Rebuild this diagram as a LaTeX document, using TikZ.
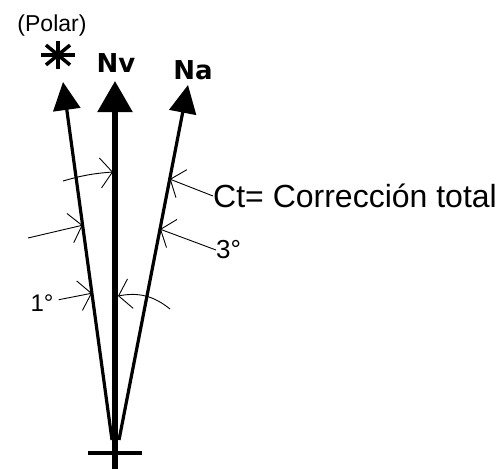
\documentclass[tikz,border=0pt]{standalone}
\usepackage{fontspec}
\setmainfont{Liberation Sans}
\newfontfamily\nfont{DejaVu Sans}
\usetikzlibrary{arrows.meta,calc}

\begin{document}
\begin{tikzpicture}[x=1pt,y=-1pt,
  north/.style={line width=3.2pt,-{Triangle[length=28pt,width=27pt]}},
  nvline/.style={line width=5.5pt,-{Triangle[length=31pt,width=34pt]}},
  ang/.style={line width=0.9pt,-{Straight Barb[length=12pt,width=30pt]}},
  nlabel/.style={font=\nfont\bfseries\fontsize{26}{30}\selectfont,inner sep=0pt}]
  \useasboundingbox (0,0) rectangle (496,469);
  % main directions
  \coordinate (base) at (115,469);
  \coordinate (nv) at (115,81);
  \coordinate (p0) at (112,440);
  \coordinate (pol) at (63,82);
  \coordinate (n0) at (119,440);
  \coordinate (na) at (188,85);
  \draw[north] (p0) -- (pol);
  \draw[nvline] (base) -- (nv);
  \draw[north] (n0) -- (na);
  \coordinate (crossL) at (88,453);
  \coordinate (crossR) at (142,453);
  \draw[line width=3.5pt] (crossL) -- (crossR);
  % star and labels
  \coordinate (star) at (58,55);
  \foreach \a in {0,45,90,135}
    \draw[line width=3.5pt] ($(star)+(\a:17 and 14)$) -- ($(star)+(\a+180:17 and 14)$);
  \node[font=\fontsize{23}{27}\selectfont,inner sep=0pt] (polar) at (52,26) {(Polar)};
  \node[nlabel] (nvlab) at (116,63) {Nv};
  \node[nlabel] (nalab) at (193,70) {Na};
  \node[anchor=west,inner sep=0pt,font=\fontsize{32}{38}\selectfont] (ct) at (213,196) {Ct= Corrección total};
  \node[anchor=west,inner sep=0pt,font=\fontsize{26}{30}\selectfont] (deg3) at (216,250) {3°};
  \node[inner sep=5pt,font=\fontsize{24}{28}\selectfont] (deg1) at (42,303) {1°};
  % angle arrows
  \coordinate (a0) at (63,181);
  \coordinate (nvA) at (113,172);
  \draw[ang] (a0) to[bend left=6] (nvA);
  \coordinate (b0) at (28,238);
  \coordinate (polB) at ($(p0)!0.6!(pol)$);
  \draw[ang] (b0) -- (polB);
  \coordinate (polC) at ($(p0)!0.41!(pol)$);
  \draw[ang] (deg1) -- (polC);
  \coordinate (d0) at (170,309);
  \coordinate (nvD) at (118,296);
  \draw[ang] (d0) to[bend right=25] (nvD);
  \coordinate (naE) at ($(n0)!0.735!(na)$);
  \draw[ang] (ct.west) -- (naE);
  \coordinate (naF) at ($(n0)!0.594!(na)$);
  \draw[ang] (deg3.west) -- (naF);
\end{tikzpicture}
\end{document}
